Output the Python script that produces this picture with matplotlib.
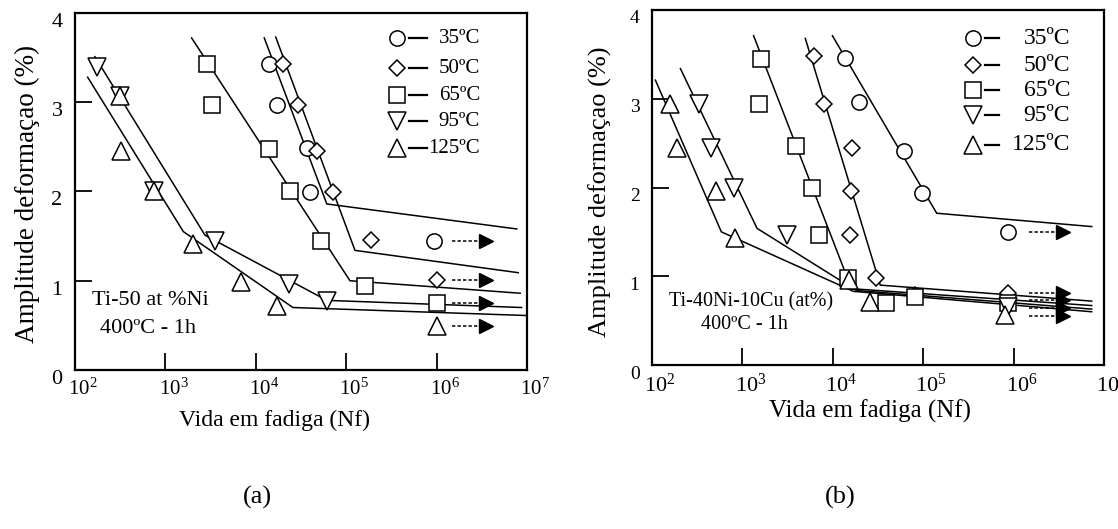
import matplotlib.pyplot as plt
from matplotlib.ticker import NullLocator
from matplotlib.transforms import ScaledTranslation

plt.rcParams['font.family'] = ['Liberation Serif', 'DejaVu Serif']
plt.rcParams['mathtext.fontset'] = 'custom'
plt.rcParams['mathtext.rm'] = 'Liberation Serif'
plt.rcParams['mathtext.it'] = 'Liberation Serif:italic'

temps = ['35ºC', '50ºC', '65ºC', '95ºC', '125ºC']
markers = ['o', 'D', 's', 'v', '^']
msizes = [11, 8.5, 11.5, 13, 13]

# (a) Ti-50 at %Ni  -- measured points
a_35_x = [1.40e4, 1.70e4, 3.65e4, 3.98e4, 9.4e5]
a_35_y = [3.43, 2.97, 2.49, 1.99, 1.45]
a_50_x = [2.0e4, 2.9e4, 4.7e4, 7.2e4, 1.9e5, 1.0e6]
a_50_y = [3.43, 2.97, 2.45, 1.99, 1.46, 1.01]
a_65_x = [2.87e3, 3.25e3, 1.4e4, 2.4e4, 5.2e4, 1.6e5, 1.0e6]
a_65_y = [3.43, 2.97, 2.48, 2.00, 1.45, 0.94, 0.75]
a_95_x = [174, 315, 753, 3.54e3, 2.35e4, 6.2e4]
a_95_y = [3.40, 3.07, 2.00, 1.44, 0.96, 0.77]
a_125_x = [315, 323, 753, 2.04e3, 6.86e3, 1.7e4, 1.0e6]
a_125_y = [3.07, 2.45, 2.00, 1.41, 0.99, 0.72, 0.49]

# (a) fitted lines
a_35_fx = [1.24e4, 6.1e4, 7.7e6]
a_35_fy = [3.72, 1.86, 1.58]
a_50_fx = [1.66e4, 1.25e5, 8.0e6]
a_50_fy = [3.73, 1.34, 1.09]
a_65_fx = [1.95e3, 1.1e5, 8.4e6]
a_65_fy = [3.72, 1.00, 0.86]
a_95_fx = [166, 2.74e3, 6.1e4, 8.7e6]
a_95_fy = [3.51, 1.51, 0.78, 0.70]
a_125_fx = [138, 1.58e3, 2.57e4, 1e7]
a_125_fy = [3.28, 1.55, 0.70, 0.61]

a_runout_y = [1.45, 1.01, 0.75, 0.49]

# (b) Ti-40Ni-10Cu (at%)  -- measured points
b_35_x = [1.38e4, 1.94e4, 6.16e4, 9.6e4, 8.6e5]
b_35_y = [3.46, 2.96, 2.41, 1.94, 1.50]
b_50_x = [6.2e3, 8.0e3, 1.64e4, 1.57e4, 1.56e4, 3.0e4, 8.15e4, 8.6e5]
b_50_y = [3.48, 2.94, 2.45, 1.96, 1.46, 0.98, 0.79, 0.81]
b_65_x = [1.62e3, 1.52e3, 3.94e3, 5.93e3, 6.95e3, 1.49e4, 3.85e4, 8.15e4, 8.6e5]
b_65_y = [3.45, 2.94, 2.47, 1.99, 1.46, 0.98, 0.70, 0.77, 0.70]
b_95_x = [331, 446, 800, 3.1e3, 8.6e5]
b_95_y = [2.94, 2.44, 1.99, 1.46, 0.65]
b_125_x = [158, 188, 510, 836, 1.52e4, 2.55e4, 8.05e5]
b_125_y = [2.94, 2.45, 1.96, 1.43, 0.96, 0.71, 0.56]

# (b) fitted lines
b_35_fx = [9.9e3, 1.41e5, 7.3e6]
b_35_fy = [3.71, 1.71, 1.56]
b_50_fx = [4.96e3, 3.35e4, 7.3e6]
b_50_fy = [3.68, 0.90, 0.72]
b_65_fx = [1.33e3, 1.61e4, 7.3e6]
b_65_fy = [3.71, 0.86, 0.67]
b_95_fx = [206, 1.45e3, 1.82e4, 7.3e6]
b_95_fy = [3.34, 1.54, 0.84, 0.63]
b_125_fx = [109, 585, 1.69e4, 7.3e6]
b_125_fy = [3.21, 1.50, 0.83, 0.60]

b_runout_y = [1.50, 0.81, 0.73, 0.64, 0.55]

runout_x = [1.47e6, 3.5e6]
xtick_vals = [1e2, 1e3, 1e4, 1e5, 1e6, 1e7]
xtick_labels = [r'$\mathregular{10^{%d}}$' % p for p in range(2, 8)]


def draw_panel(ax, pts, fits, runout_y, xfs, yfs, ylfs, xlfs, xl_pos, yl_pos,
               leg_x, leg_y, leg_fs, note, note_fs):
    for (fx, fy) in fits:
        ax.plot(fx, fy, color='k', lw=1.1, zorder=2, solid_joinstyle='miter')
    for (x, y), m, s in zip(pts, markers, msizes):
        ax.plot(x, y, ls='none', marker=m, ms=s, mfc='white', mec='k',
                mew=1.1, zorder=3)
    for y in runout_y:
        ax.plot(runout_x, [y, y], color='k', lw=1.1, ls=(0, (2.2, 1.4)), zorder=2)
        ax.plot(runout_x[1:], [y], marker='>', ms=10.5, color='k', ls='none', zorder=4)

    ax.set_xscale('log')
    ax.set_xlim(1e2, 1e7)
    ax.set_ylim(0, 4)
    ax.set_xticks(xtick_vals)
    ax.set_xticklabels(xtick_labels, fontsize=xfs)
    ax.xaxis.set_minor_locator(NullLocator())
    ax.set_yticks([0, 1, 2, 3, 4])
    ax.set_yticklabels(['0', '1', '2', '3', '4'], fontsize=yfs)
    ax.tick_params(direction='in', length=12, width=1.3, color='k')
    ax.tick_params(axis='y', pad=9)
    ax.tick_params(axis='x', pad=6)
    for sp in ax.spines.values():
        sp.set_linewidth(1.6)

    dx = ScaledTranslation(0.08, 0, fig.dpi_scale_trans)
    for lab in ax.get_xticklabels():
        lab.set_transform(lab.get_transform() + dx)
    dy = ScaledTranslation(0, -0.07, fig.dpi_scale_trans)
    for lab in ax.get_yticklabels():
        lab.set_transform(lab.get_transform() + dy)

    ax.set_ylabel('Amplitude deformaçao (%)', fontsize=ylfs)
    ax.yaxis.set_label_coords(*yl_pos)
    ax.set_xlabel('Vida em fadiga (Nf)', fontsize=xlfs)
    ax.xaxis.set_label_coords(*xl_pos)

    mx, lx0, lx1, tx = leg_x
    for t, m, s, y in zip(temps, markers, msizes, leg_y):
        ax.plot([mx], [y], marker=m, ms=s, mfc='white', mec='k', mew=1.1,
                transform=ax.transAxes, clip_on=False, zorder=5)
        ax.plot([lx0, lx1], [y, y], color='k', lw=1.6, transform=ax.transAxes,
                clip_on=False, zorder=5)
        ax.text(tx, y, t, fontsize=leg_fs, ha='right', va='center',
                transform=ax.transAxes)

    for (txt, x, y) in note:
        ax.text(x, y, txt, fontsize=note_fs, ha='center', va='center',
                transform=ax.transAxes)


fig = plt.figure(figsize=(11.18, 5.29), dpi=100)
axa = fig.add_axes([0.0671, 0.3006, 0.4043, 0.6749])
axb = fig.add_axes([0.5832, 0.3100, 0.4043, 0.6711])

draw_panel(axa,
           [(a_35_x, a_35_y), (a_50_x, a_50_y), (a_65_x, a_65_y),
            (a_95_x, a_95_y), (a_125_x, a_125_y)],
           [(a_35_fx, a_35_fy), (a_50_fx, a_50_fy), (a_65_fx, a_65_fy),
            (a_95_fx, a_95_fy), (a_125_fx, a_125_fy)],
           a_runout_y, 15, 16, 19.5, 17, (0.442, -0.112), (-0.077, 0.493),
           (0.712, 0.739, 0.779, 0.896), [0.929, 0.845, 0.770, 0.696, 0.621], 15,
           [('Ti-50 at %Ni', 0.166, 0.196), ('400ºC - 1h', 0.162, 0.115)], 16)

draw_panel(axb,
           [(b_35_x, b_35_y), (b_50_x, b_50_y), (b_65_x, b_65_y),
            (b_95_x, b_95_y), (b_125_x, b_125_y)],
           [(b_35_fx, b_35_fy), (b_50_fx, b_50_fy), (b_65_fx, b_65_fy),
            (b_95_fx, b_95_fy), (b_125_fx, b_125_fy)],
           b_runout_y, 16, 14, 19, 18, (0.482, -0.098), (-0.0885, 0.489),
           (0.711, 0.737, 0.768, 0.925), [0.920, 0.845, 0.774, 0.704, 0.620], 17,
           [('Ti-40Ni-10Cu (at%)', 0.220, 0.177), ('400ºC - 1h', 0.204, 0.113)], 14.5)

fig.text(0.2299, 0.0605, '(a)', fontsize=19, ha='center', va='center')
fig.text(0.7513, 0.0605, '(b)', fontsize=19, ha='center', va='center')

fig.savefig('out.png', dpi=100)
